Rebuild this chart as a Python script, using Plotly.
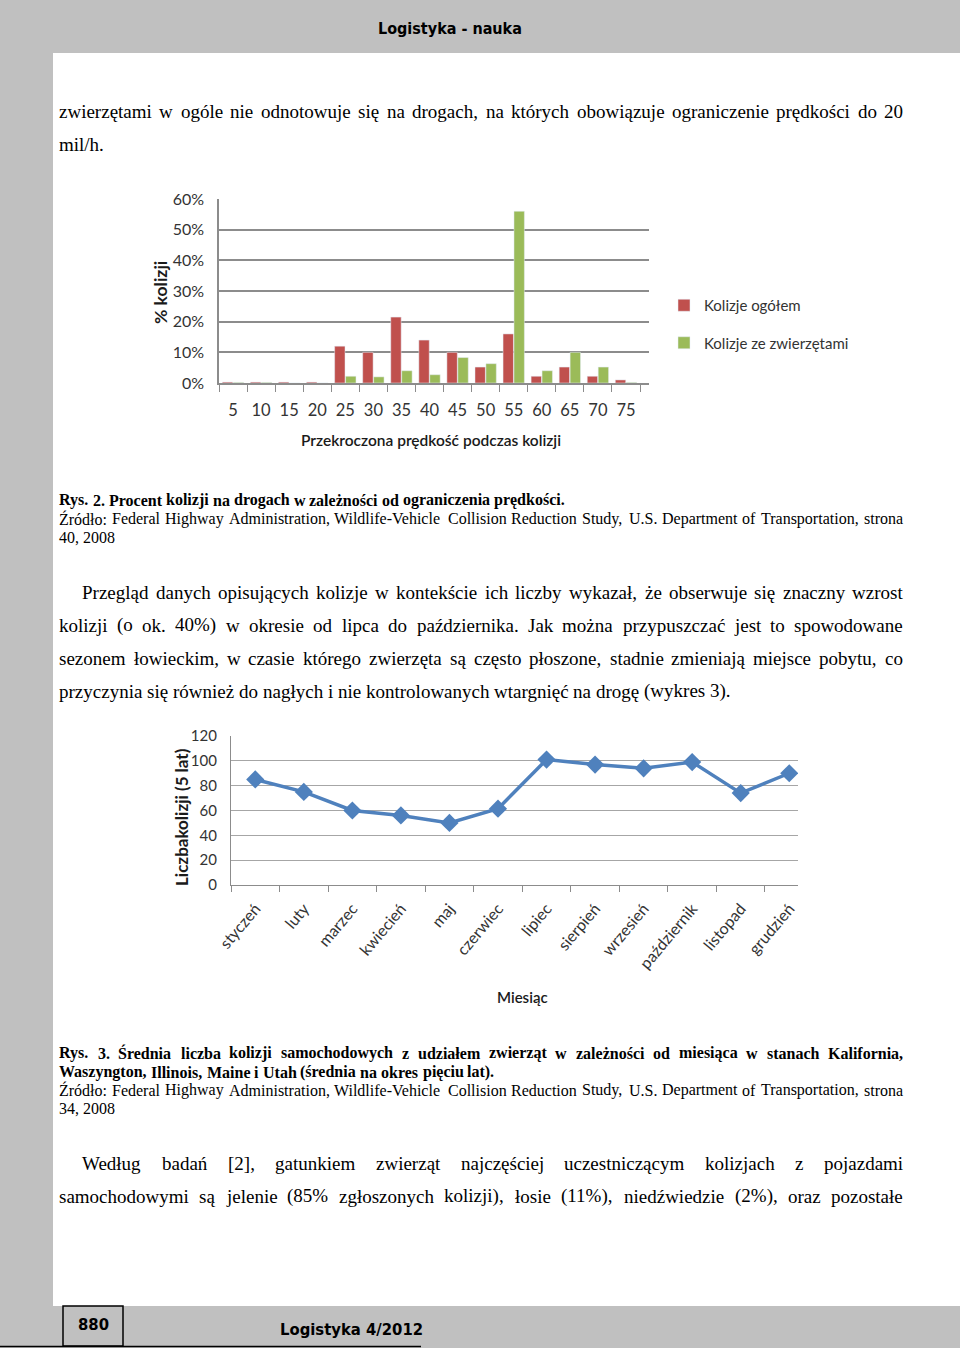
import plotly.graph_objects as go

W, H = 960, 1348


def px(x):
    return x / W


def py(y):
    return 1 - y / H


# ---------------- data ----------------
speeds = ['5', '10', '15', '20', '25', '30', '35', '40', '45', '50', '55', '60', '65', '70', '75']
total_pct = [0.3, 0.3, 0.3, 0.3, 12.0, 10.0, 21.5, 14.0, 10.0, 5.2, 16.0, 2.2, 5.2, 2.2, 1.0]
animal_pct = [0.2, 0.2, 0.0, 0.0, 2.2, 2.0, 4.0, 2.7, 8.3, 6.3, 56.0, 4.0, 10.0, 5.2, 0.2]
pct_ticks = [0, 10, 20, 30, 40, 50, 60]
pct_labels = ['0%', '10%', '20%', '30%', '40%', '50%', '60%']

months = ['styczeń', 'luty', 'marzec', 'kwiecień', 'maj', 'czerwiec', 'lipiec',
          'sierpień', 'wrzesień', 'październik', 'listopad', 'grudzień']
collisions = [85, 75, 60, 56, 50, 61.5, 101, 97, 94, 99, 74, 90]
count_ticks = [0, 20, 40, 60, 80, 100, 120]

RED = '#C0504D'
GREEN = '#9BBB59'
BLUE = '#4F81BD'
PAGE_GRAY = '#c0c0c0'
CHART_FONT = 'Lato, Open Sans, sans-serif'
SERIF = 'Liberation Serif, Times New Roman, serif'
HEAD_FONT = 'Liberation Sans Narrow, DejaVu Sans Condensed, DejaVu Sans, sans-serif'

fig = go.Figure()

fig.add_trace(go.Bar(x=speeds, y=total_pct, name='Kolizje ogółem', marker=dict(color=RED),
                     xaxis='x', yaxis='y', legendgroup='a'))
fig.add_trace(go.Bar(x=speeds, y=animal_pct, name='Kolizje ze zwierzętami', marker=dict(color=GREEN),
                     xaxis='x', yaxis='y', legendgroup='b'))
fig.add_trace(go.Scatter(x=months, y=collisions, mode='lines+markers', showlegend=False,
                         line=dict(color=BLUE, width=3.5),
                         marker=dict(symbol='diamond', size=14, color=BLUE),
                         xaxis='x2', yaxis='y2'))

# ---------------- text helpers (Times metrics) ----------------
REG = {' ': 250, '!': 333, '%': 833, '(': 333, ')': 333, ',': 250, '-': 333, '.': 250, '/': 278,
       ':': 278, ';': 278, '?': 444, '[': 333, ']': 333,
       'A': 722, 'B': 667, 'C': 667, 'D': 722, 'E': 611, 'F': 556, 'G': 722, 'H': 722, 'I': 333,
       'J': 389, 'K': 722, 'L': 611, 'M': 889, 'N': 722, 'O': 722, 'P': 556, 'Q': 722, 'R': 667,
       'S': 556, 'T': 611, 'U': 722, 'V': 722, 'W': 944, 'X': 722, 'Y': 722, 'Z': 611,
       'a': 444, 'b': 500, 'c': 444, 'd': 500, 'e': 444, 'f': 333, 'g': 500, 'h': 500, 'i': 278,
       'j': 278, 'k': 500, 'l': 278, 'm': 778, 'n': 500, 'o': 500, 'p': 500, 'q': 500, 'r': 333,
       's': 389, 't': 278, 'u': 500, 'v': 500, 'w': 722, 'x': 500, 'y': 500, 'z': 444}
BOLD = {' ': 250, '%': 1000, '(': 333, ')': 333, ',': 250, '-': 333, '.': 250, ':': 333,
        'A': 722, 'B': 667, 'C': 722, 'D': 722, 'E': 667, 'F': 611, 'G': 778, 'H': 778, 'I': 389,
        'J': 500, 'K': 778, 'L': 667, 'M': 944, 'N': 722, 'O': 778, 'P': 611, 'R': 722, 'S': 556,
        'T': 667, 'U': 722, 'W': 1000, 'Z': 667,
        'a': 500, 'b': 556, 'c': 444, 'd': 556, 'e': 444, 'f': 333, 'g': 500, 'h': 556, 'i': 278,
        'j': 333, 'k': 556, 'l': 278, 'm': 833, 'n': 556, 'o': 500, 'p': 556, 'q': 556, 'r': 444,
        's': 389, 't': 333, 'u': 556, 'v': 500, 'w': 722, 'x': 500, 'y': 500, 'z': 444}
DIA = {'ą': 'a', 'ć': 'c', 'ę': 'e', 'ł': 'l', 'ń': 'n', 'ó': 'o', 'ś': 's', 'ź': 'z', 'ż': 'z',
       'Ś': 'S', 'Ź': 'Z', 'Ł': 'L', 'Ż': 'Z'}


def tw(s, size, bold):
    tbl = BOLD if bold else REG
    return sum(tbl.get(DIA.get(c, c), 500) for c in s) * size / 1000.0


annotations = []


def line(text, y, x0=58, x1=902, size=19, bold=False, justify=True):
    words = text.split()
    ws = [tw(w, size, bold) for w in words]
    if justify and len(words) > 1:
        gap = (x1 - x0 - sum(ws)) / (len(words) - 1)
    else:
        gap = tw(' ', size, bold)
    x = x0
    for w, ww in zip(words, ws):
        annotations.append(dict(x=px(x), y=py(y), xref='paper', yref='paper', text=w,
                                showarrow=False, xanchor='left', yanchor='middle', borderpad=0,
                                font=dict(family=SERIF, size=size, color='black',
                                          weight='bold' if bold else 'normal')))
        x += ww + gap


line('zwierzętami w ogóle nie odnotowuje się na drogach, na których obowiązuje ograniczenie prędkości do 20', 112)
line('mil/h.', 145, justify=False)

line('Rys. 2. Procent kolizji na drogach w zależności od ograniczenia prędkości.', 500, size=16, bold=True, justify=False)
line('Źródło: Federal Highway Administration, Wildlife-Vehicle Collision Reduction Study, U.S. Department of Transportation, strona', 519, size=16)
line('40, 2008', 537, size=16, justify=False)

line('Przegląd danych opisujących kolizje w kontekście ich liczby wykazał, że obserwuje się znaczny wzrost', 592, x0=81)
line('kolizji (o ok. 40%) w okresie od lipca do października. Jak można przypuszczać jest to spowodowane', 625)
line('sezonem łowieckim, w czasie którego zwierzęta są często płoszone, stadnie zmieniają miejsce pobytu, co', 658)
line('przyczynia się również do nagłych i nie kontrolowanych wtargnięć na drogę (wykres 3).', 691, justify=False)

line('Rys. 3. Średnia liczba kolizji samochodowych z udziałem zwierząt w zależności od miesiąca w stanach Kalifornia,', 1053, size=16, bold=True)
line('Waszyngton, Illinois, Maine i Utah (średnia na okres pięciu lat).', 1072, size=16, bold=True, justify=False)
line('Źródło: Federal Highway Administration, Wildlife-Vehicle Collision Reduction Study, U.S. Department of Transportation, strona', 1090, size=16)
line('34, 2008', 1108, size=16, justify=False)

line('Według badań [2], gatunkiem zwierząt najczęściej uczestniczącym kolizjach z pojazdami', 1163, x0=81)
line('samochodowymi są jelenie (85% zgłoszonych kolizji), łosie (11%), niedźwiedzie (2%), oraz pozostałe', 1196)

# header / footer
annotations.append(dict(x=px(450), y=py(28), xref='paper', yref='paper', text='Logistyka - nauka',
                        showarrow=False, xanchor='center', yanchor='middle',
                        font=dict(family=HEAD_FONT, size=16, color='black', weight='bold')))
annotations.append(dict(x=px(93), y=py(1324), xref='paper', yref='paper', text='880',
                        showarrow=False, xanchor='center', yanchor='middle',
                        font=dict(family=HEAD_FONT, size=16.5, color='black', weight='bold')))
annotations.append(dict(x=px(351), y=py(1329), xref='paper', yref='paper', text='Logistyka 4/2012',
                        showarrow=False, xanchor='center', yanchor='middle',
                        font=dict(family=HEAD_FONT, size=16.5, color='black', weight='bold')))

# axis titles (chart 1)
annotations.append(dict(x=px(160), y=py(293), xref='paper', yref='paper', text='% kolizji',
                        showarrow=False, textangle=-90, xanchor='center', yanchor='middle',
                        font=dict(family=CHART_FONT, size=17.5, color='#1a1a1a', weight='bold')))
annotations.append(dict(x=px(431), y=py(440), xref='paper', yref='paper',
                        text='Przekroczona prędkość podczas kolizji',
                        showarrow=False, xanchor='center', yanchor='middle',
                        font=dict(family=CHART_FONT, size=15.5, color='#1a1a1a', weight=600)))
# axis titles (chart 2)
annotations.append(dict(x=px(181), y=py(817), xref='paper', yref='paper', text='Liczbakolizji (5 lat)',
                        showarrow=False, textangle=-90, xanchor='center', yanchor='middle',
                        font=dict(family=CHART_FONT, size=17, color='#1a1a1a', weight='bold')))
annotations.append(dict(x=px(522), y=py(997), xref='paper', yref='paper', text='Miesiąc',
                        showarrow=False, xanchor='center', yanchor='middle',
                        font=dict(family=CHART_FONT, size=15, color='#1a1a1a', weight=600)))

shapes = [
    dict(type='rect', xref='paper', yref='paper', x0=px(53), x1=1.0, y0=py(1306), y1=py(53),
         fillcolor='white', line=dict(width=0), layer='below'),
    dict(type='rect', xref='paper', yref='paper', x0=px(63), x1=px(123), y0=py(1346), y1=py(1306),
         fillcolor=PAGE_GRAY, line=dict(width=1.5, color='black'), layer='above'),
    dict(type='line', xref='paper', yref='paper', x0=0, x1=px(421), y0=py(1346.5), y1=py(1346.5),
         line=dict(width=1.5, color='black'), layer='above'),
]

fig.update_layout(
    width=W, height=H, margin=dict(l=0, r=0, t=0, b=0, autoexpand=False),
    paper_bgcolor=PAGE_GRAY, plot_bgcolor='rgba(0,0,0,0)',
    barmode='group', bargap=0.22, bargroupgap=0.05,
    showlegend=True,
    legend=dict(x=px(664), y=py(289), xanchor='left', yanchor='top', bgcolor='rgba(0,0,0,0)',
                font=dict(family=CHART_FONT, size=15, color='#333333'), tracegroupgap=15,
                itemwidth=30),
    annotations=annotations, shapes=shapes,
    xaxis=dict(domain=[px(219), px(649)], anchor='y', type='category', tickangle=0, automargin=False,
               range=[-0.5, 14.82],
               showline=True, linecolor='#8c8c8c', linewidth=1.5,
               ticks='outside', tickson='boundaries', ticklen=7, tickcolor='#8c8c8c',
               ticklabelstandoff=11,
               tickfont=dict(family=CHART_FONT, size=16.5, color='#333333'), showgrid=False),
    yaxis=dict(domain=[py(383), py(199)], anchor='x', range=[0, 60], tickvals=pct_ticks, automargin=False,
               ticktext=pct_labels, showgrid=True, gridcolor='#8c8c8c', gridwidth=1.5,
               showline=True, linecolor='#8c8c8c', linewidth=1.5, zeroline=False,
               ticklabelstandoff=10,
               tickfont=dict(family=CHART_FONT, size=16, color='#333333')),
    xaxis2=dict(domain=[px(231), px(798)], anchor='y2', type='category', range=[-0.5, 11.18],
                automargin=False,
                showline=True, linecolor='#8c8c8c', linewidth=1.2,
                ticks='outside', tickson='boundaries', ticklen=6, tickcolor='#8c8c8c',
                tickangle=-50, showgrid=False, ticklabelstandoff=7,
                tickfont=dict(family=CHART_FONT, size=16, color='#333333')),
    yaxis2=dict(domain=[py(885), py(736)], anchor='x2', range=[0, 120], tickvals=count_ticks,
                automargin=False,
                showgrid=True, gridcolor='#a6a6a6', gridwidth=1,
                showline=True, linecolor='#8c8c8c', linewidth=1.2, zeroline=False,
                ticklabelstandoff=10,
                tickfont=dict(family=CHART_FONT, size=15, color='#333333')),
)

fig.write_html('out.html',
               post_script="document.body.style.margin='0';document.body.style.padding='0';"
                           "document.documentElement.style.overflow='hidden';")
